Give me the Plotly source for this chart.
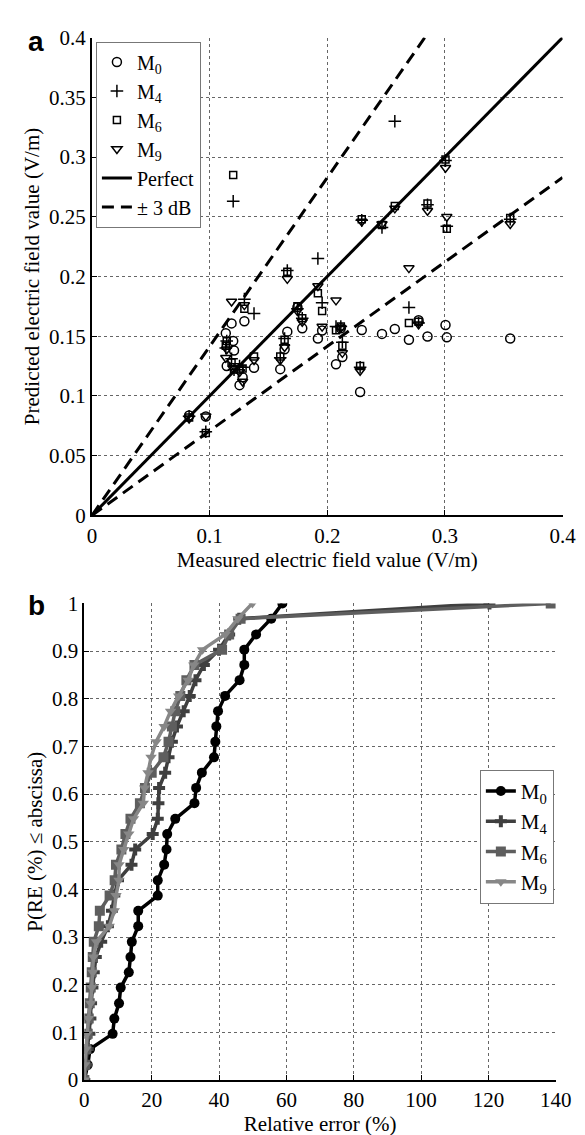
import plotly.graph_objects as go

# ---------------- Panel a: measured vs predicted ----------------
meas = [0.0825, 0.0967, 0.1145, 0.1137, 0.1186, 0.1200, 0.1207, 0.1295, 0.1280, 0.1254,
        0.1377, 0.1600, 0.1637, 0.1660, 0.1746, 0.1787, 0.1920, 0.1956, 0.2074, 0.2128,
        0.2115, 0.2293, 0.2279, 0.2465, 0.2574, 0.2694, 0.2776, 0.2852, 0.3005, 0.3016,
        0.3555]
pred_m0 = [0.0836, 0.0828, 0.1250, 0.1525, 0.1607, 0.1460, 0.1380, 0.1625, 0.1156, 0.1090,
           0.1235, 0.1224, 0.1390, 0.1538, 0.1743, 0.1566, 0.1480, 0.1547, 0.1265, 0.1325,
           0.1566, 0.1552, 0.1033, 0.1519, 0.1560, 0.1470, 0.1634, 0.1497, 0.1593, 0.1490,
           0.1480]
pred_m4 = [0.0830, 0.0700, 0.1460, 0.1400, 0.1310, 0.2630, 0.1220, 0.1810, 0.1240, 0.1250,
           0.1690, 0.1320, 0.1480, 0.2050, 0.1730, 0.1650, 0.2150, 0.1780, 0.1580, 0.1450,
           0.1580, 0.2470, 0.1240, 0.2410, 0.3300, 0.1740, 0.1610, 0.2600, 0.2970, 0.2420,
           0.2480]
pred_m6 = [0.0820, 0.0690, 0.1460, 0.1420, 0.1280, 0.2850, 0.1220, 0.1730, 0.1230, 0.1220,
           0.1330, 0.1330, 0.1470, 0.2040, 0.1750, 0.1650, 0.1860, 0.1710, 0.1550, 0.1420,
           0.1580, 0.2480, 0.1250, 0.2430, 0.2590, 0.1610, 0.1620, 0.2610, 0.2980, 0.2400,
           0.2490]
pred_m9 = [0.0810, 0.0830, 0.1390, 0.1320, 0.1790, 0.1230, 0.1250, 0.1760, 0.1120, 0.1200,
           0.1300, 0.1300, 0.1410, 0.1980, 0.1710, 0.1620, 0.1920, 0.1580, 0.1800, 0.1360,
           0.1570, 0.2460, 0.1210, 0.2440, 0.2570, 0.2070, 0.1600, 0.2550, 0.2910, 0.2500,
           0.2440]
ref_x = [0.0, 0.4]
sqrt2 = 2 ** 0.5

# ---------------- Panel b: CDF of relative error ----------------
prob = [0.0, 0.032, 0.065, 0.097, 0.129, 0.161, 0.194, 0.226, 0.258, 0.290, 0.323,
        0.355, 0.387, 0.419, 0.452, 0.484, 0.516, 0.548, 0.581, 0.613, 0.645, 0.677,
        0.710, 0.742, 0.774, 0.806, 0.839, 0.871, 0.903, 0.935, 0.968, 1.0]
err_m0 = [0.0, 1.0, 1.7, 8.4, 8.9, 10.3, 10.8, 13.2, 13.7, 14.1, 16.0, 16.0, 21.8, 21.8,
          23.7, 24.4, 24.6, 27.0, 32.7, 33.2, 34.9, 38.5, 38.9, 39.2, 39.7, 41.8, 46.1,
          47.5, 47.5, 51.0, 55.5, 58.8]
err_m4 = [0.0, 0.5, 1.0, 1.5, 1.8, 2.0, 2.4, 2.8, 3.4, 5.0, 7.0, 8.2, 8.9, 10.0, 14.0,
          15.1, 20.3, 21.8, 22.0, 22.2, 24.0, 25.0, 26.0, 27.5, 29.5, 31.3, 33.0, 35.5,
          40.0, 43.0, 46.0, 120.3]
err_m6 = [0.0, 0.3, 0.6, 1.0, 1.3, 1.6, 1.9, 2.2, 2.5, 2.8, 4.3, 4.6, 7.5, 9.0, 9.4,
          11.0, 12.2, 13.7, 16.5, 18.0, 20.0, 23.5, 25.0, 26.0, 27.0, 28.5, 30.3, 32.7,
          40.9, 43.0, 46.4, 138.5]
err_m9 = [0.0, 0.1, 0.5, 0.8, 1.2, 1.9, 2.2, 2.5, 2.7, 3.6, 7.4, 8.9, 9.4, 10.3, 10.3,
          11.7, 13.2, 14.6, 17.5, 17.9, 18.9, 19.8, 21.3, 23.7, 25.6, 28.0, 30.8, 32.5,
          35.1, 41.8, 45.6, 49.9]

labels = ["M<sub>0</sub>", "M<sub>4</sub>", "M<sub>6</sub>", "M<sub>9</sub>"]

FONT = "'Liberation Serif', 'Times New Roman', 'DejaVu Serif', serif"
fig = go.Figure()

# top scatter
sym_a = ["circle-open", "cross-thin-open", "square-open", "triangle-down-open"]
size_a = [9, 9, 7, 9]
for lab, ys, sym, sz in zip(labels, [pred_m0, pred_m4, pred_m6, pred_m9], sym_a, size_a):
    fig.add_trace(go.Scatter(
        x=meas, y=ys, mode="markers", name=lab, xaxis="x", yaxis="y", legend="legend",
        marker=dict(symbol=sym, size=sz, color="black", line=dict(color="black", width=1.5)),
    ))
fig.add_trace(go.Scatter(x=ref_x, y=ref_x, mode="lines", name="Perfect", xaxis="x", yaxis="y",
                         legend="legend", line=dict(color="black", width=3)))
fig.add_trace(go.Scatter(x=ref_x, y=[v * sqrt2 for v in ref_x], mode="lines", name="± 3 dB",
                         xaxis="x", yaxis="y", legend="legend",
                         line=dict(color="black", width=3, dash="12px,7px")))
fig.add_trace(go.Scatter(x=ref_x, y=[v / sqrt2 for v in ref_x], mode="lines", name="± 3 dB",
                         xaxis="x", yaxis="y", showlegend=False,
                         line=dict(color="black", width=3, dash="12px,7px")))

# bottom CDF
cols = ["#000000", "#3f3f3f", "#5e5e5e", "#878787"]
sym_b = ["circle", "cross", "square", "triangle-down"]
for lab, xs, c, sym in zip(labels, [err_m0, err_m4, err_m6, err_m9], cols, sym_b):
    fig.add_trace(go.Scatter(
        x=xs, y=prob, mode="lines+markers", name=lab, xaxis="x2", yaxis="y2", legend="legend2",
        line=dict(color=c, width=3.5), marker=dict(symbol=sym, size=10, color=c),
    ))

W, H = 585, 1135
FS = 21
axis_common = dict(
    showline=True, linecolor="black", linewidth=2, mirror=False,
    ticks="inside", ticklen=5, tickcolor="black", tickwidth=1,
    showgrid=True, gridcolor="#666666", gridwidth=1, griddash="dot",
    zeroline=False, tickfont=dict(family=FONT, size=FS, color="black"),
)
tfont = dict(family=FONT, size=FS, color="black")

fig.update_layout(
    width=W, height=H, paper_bgcolor="white", plot_bgcolor="white",
    margin=dict(l=0, r=0, t=0, b=0),
    font=dict(family=FONT, size=FS, color="black"),
    xaxis=dict(domain=[82 / W, 570 / W], range=[0, 0.4], tickvals=[0, 0.1, 0.2, 0.3, 0.4],
               ticktext=["0", "0.1", "0.2", "0.3", "0.4"], anchor="y",
               title=dict(text="Measured electric field value (V/m)", standoff=6, font=tfont),
               **axis_common),
    yaxis=dict(domain=[1 - 506 / H, 1 - 18 / H], range=[0, 0.4],
               tickvals=[0, 0.05, 0.1, 0.15, 0.2, 0.25, 0.3, 0.35, 0.4],
               ticktext=["0", "0.05", "0.1", "0.15", "0.2", "0.25", "0.3", "0.35", "0.4"],
               anchor="x",
               title=dict(text="Predicted electric field value (V/m)", standoff=4, font=tfont),
               **axis_common),
    xaxis2=dict(domain=[74 / W, 563 / W], range=[0, 140], tickvals=list(range(0, 141, 20)),
                anchor="y2",
                title=dict(text="Relative error (%)", standoff=2, font=tfont),
                **axis_common),
    yaxis2=dict(domain=[1 - 1083 / H, 1 - 596 / H], range=[0, 1],
                tickvals=[0, 0.1, 0.2, 0.3, 0.4, 0.5, 0.6, 0.7, 0.8, 0.9, 1],
                ticktext=["0", "0.1", "0.2", "0.3", "0.4", "0.5", "0.6", "0.7", "0.8", "0.9", "1"],
                anchor="x2",
                title=dict(text="P(RE (%) ≤ abscissa)", standoff=4, font=tfont),
                **axis_common),
    legend=dict(x=86 / W, y=1 - 22 / H, xanchor="left", yanchor="top",
                bgcolor="white", bordercolor="#777777", borderwidth=1,
                font=dict(family=FONT, size=20), itemwidth=30, tracegroupgap=0),
    legend2=dict(x=561 / W, y=1 - 766 / H, xanchor="right", yanchor="top",
                 bgcolor="white", bordercolor="#777777", borderwidth=1,
                 font=dict(family=FONT, size=FS), itemwidth=30, tracegroupgap=0),
    annotations=[
        dict(text="<b>a</b>", x=14 / W, y=1 - 4 / H, xref="paper", yref="paper",
             xanchor="left", yanchor="top", showarrow=False,
             font=dict(family="Liberation Sans, Arial, sans-serif", size=28, color="black")),
        dict(text="<b>b</b>", x=14 / W, y=1 - 580 / H, xref="paper", yref="paper",
             xanchor="left", yanchor="top", showarrow=False,
             font=dict(family="Liberation Sans, Arial, sans-serif", size=28, color="black")),
    ],
)

fig.write_html("out.html")
